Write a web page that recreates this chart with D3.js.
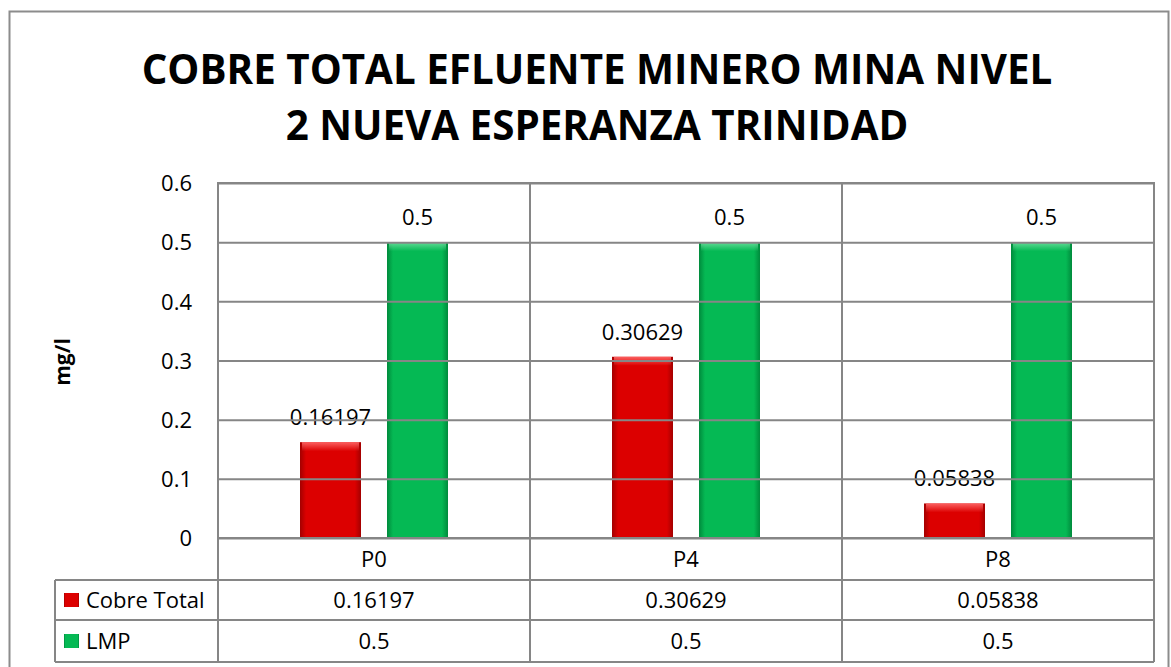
<!DOCTYPE html>
<html lang="en">
<head>
<meta charset="UTF-8">
<title>Cobre total</title>
<script src="https://d3js.org/d3.v7.min.js"></script>
<style>
  body { margin: 0; background: #fff; }
  text { font-family: "Open Sans", "Liberation Sans", sans-serif; fill: #000; }
</style>
</head>
<body>
<script>
var categories = ['P0', 'P4', 'P8'];
var cobreTotal = [0.16197, 0.30629, 0.05838];
var lmp = [0.5, 0.5, 0.5];
var yTicks = [0, 0.1, 0.2, 0.3, 0.4, 0.5, 0.6];
var seriesNames = ['Cobre Total', 'LMP'];
var titleLines = ['COBRE TOTAL EFLUENTE MINERO MINA NIVEL', '2 NUEVA ESPERANZA TRINIDAD'];

var width = 1171, height = 667;
var plotLeft = 218, plotRight = 1154, plotTop = 183, plotBottom = 538;

var svg = d3.select('body').append('svg')
    .attr('width', width)
    .attr('height', height);

var defs = svg.append('defs');
function barGradient(id, edge, mid) {
  var g = defs.append('linearGradient').attr('id', id)
      .attr('x1', 0).attr('x2', 1).attr('y1', 0).attr('y2', 0);
  g.append('stop').attr('offset', '0%').attr('stop-color', edge);
  g.append('stop').attr('offset', '10%').attr('stop-color', mid);
  g.append('stop').attr('offset', '90%').attr('stop-color', mid);
  g.append('stop').attr('offset', '100%').attr('stop-color', edge);
}
barGradient('gRed', '#a30000', '#dc0000');
barGradient('gGreen', '#008a3c', '#05b954');
function topGradient(id, c) {
  var g = defs.append('linearGradient').attr('id', id)
      .attr('x1', 0).attr('x2', 0).attr('y1', 0).attr('y2', 1);
  g.append('stop').attr('offset', '0%').attr('stop-color', c).attr('stop-opacity', 0.9);
  g.append('stop').attr('offset', '100%').attr('stop-color', c).attr('stop-opacity', 0);
}
topGradient('tRed', '#ff6a6a');
topGradient('tGreen', '#6fe0a0');
var colors = ['url(#gRed)', 'url(#gGreen)'];
var topColors = ['url(#tRed)', 'url(#tGreen)'];

// outer border
svg.append('rect')
    .attr('x', 9.5).attr('y', 11.5)
    .attr('width', 1159).attr('height', 670)
    .attr('fill', 'none').attr('stroke', '#8c8c8c').attr('stroke-width', 2);

// title
var title = svg.append('g');
titleLines.forEach(function(t, i) {
  title.append('text')
      .attr('x', 597).attr('y', 84 + i * 56)
      .attr('text-anchor', 'middle')
      .attr('font-weight', 'bold')
      .attr('font-size', 40)
      .text(t);
});
var t0 = title.select('text').node().getComputedTextLength();
title.selectAll('text').attr('font-size', 40 * 911 / t0);

var x0 = d3.scaleBand().domain(categories).range([plotLeft, plotRight]);
var y = d3.scaleLinear().domain([0, 0.6]).range([plotBottom, plotTop]);

// bars
var barW = 61, gap = 26;
var series = [cobreTotal, lmp];
series.forEach(function(vals, s) {
  var g = svg.append('g');
  var offset = s === 0 ? -(gap / 2 + barW) : gap / 2;
  var xs = function(d, i) { return x0(categories[i]) + x0.bandwidth() / 2 + offset; };
  g.selectAll('rect.bar').data(vals).enter().append('rect')
      .attr('class', 'bar')
      .attr('x', xs)
      .attr('y', function(d) { return y(d); })
      .attr('width', barW)
      .attr('height', function(d) { return y(0) - y(d); })
      .attr('fill', colors[s]);
  g.selectAll('rect.top').data(vals).enter().append('rect')
      .attr('class', 'top')
      .attr('x', function(d, i) { return xs(d, i) + 2; })
      .attr('y', function(d) { return y(d); })
      .attr('width', barW - 4)
      .attr('height', 9)
      .attr('fill', topColors[s]);
  g.selectAll('text').data(vals).enter().append('text')
      .attr('x', function(d, i) { return xs(d, i) + barW / 2; })
      .attr('y', function(d) { return y(d) - 17; })
      .attr('text-anchor', 'middle')
      .attr('font-size', 22)
      .text(function(d) { return d; });
});

// gridlines (drawn on top, as in the original)
var yAxis = d3.axisLeft(y).tickValues(yTicks).tickSize(-(plotRight - plotLeft)).tickFormat(d3.format('~g'));
var ag = svg.append('g').attr('transform', 'translate(' + plotLeft + ',0)').call(yAxis);
ag.select('.domain').remove();
ag.selectAll('.tick line').attr('stroke', '#868686').attr('stroke-width', 2);
ag.selectAll('.tick text').attr('x', -26).attr('font-size', 22).attr('dy', '0.35em');

// plot frame
svg.append('rect')
    .attr('x', plotLeft).attr('y', plotTop)
    .attr('width', plotRight - plotLeft).attr('height', plotBottom - plotTop)
    .attr('fill', 'none').attr('stroke', '#868686').attr('stroke-width', 2);

// data table
var rowY = [538, 580, 620, 662];
var tableLeft = 55;
var tbl = svg.append('g').attr('stroke', '#868686').attr('stroke-width', 2).attr('fill', 'none');
[1, 2, 3].forEach(function(r) {
  tbl.append('line').attr('x1', tableLeft).attr('x2', plotRight).attr('y1', rowY[r]).attr('y2', rowY[r]);
});
tbl.append('line').attr('x1', tableLeft).attr('x2', tableLeft).attr('y1', rowY[1]).attr('y2', rowY[3]);
tbl.append('line').attr('x1', plotLeft).attr('x2', plotLeft).attr('y1', plotBottom).attr('y2', rowY[3]);
tbl.append('line').attr('x1', plotRight).attr('x2', plotRight).attr('y1', plotBottom).attr('y2', rowY[3]);
categories.forEach(function(c, i) {
  if (i > 0) {
    tbl.append('line').attr('x1', x0(c)).attr('x2', x0(c)).attr('y1', plotTop).attr('y2', rowY[3]);
  }
});

svg.selectAll('text.cat').data(categories).enter().append('text')
    .attr('class', 'cat')
    .attr('x', function(d) { return x0(d) + x0.bandwidth() / 2; })
    .attr('y', 559).attr('dy', '0.35em').attr('text-anchor', 'middle').attr('font-size', 22)
    .text(function(d) { return d; });

series.forEach(function(vals, s) {
  var cy = (rowY[s + 1] + rowY[s + 2]) / 2;
  svg.append('rect')
      .attr('x', 64).attr('y', cy - 7).attr('width', 15).attr('height', 14)
      .attr('fill', colors[s]);
  svg.append('text')
      .attr('x', 86).attr('y', cy).attr('dy', '0.35em').attr('font-size', 22)
      .text(seriesNames[s]);
  svg.selectAll('text.v' + s).data(vals).enter().append('text')
      .attr('class', 'v' + s)
      .attr('x', function(d, i) { return x0(categories[i]) + x0.bandwidth() / 2; })
      .attr('y', cy).attr('dy', '0.35em').attr('text-anchor', 'middle').attr('font-size', 22)
      .text(function(d) { return d; });
});

// axis title
svg.append('text')
    .attr('transform', 'translate(70,362) rotate(-90)')
    .attr('text-anchor', 'middle')
    .attr('font-weight', 'bold')
    .attr('font-size', 21)
    .text('mg/l');
</script>
</body>
</html>
